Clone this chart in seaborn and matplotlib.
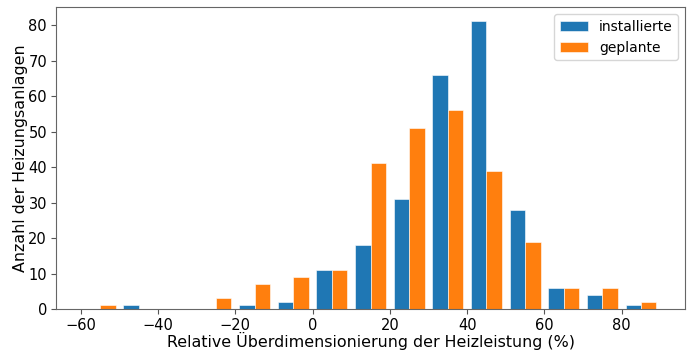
import numpy as np
import pandas as pd
import matplotlib
matplotlib.use("Agg")
import matplotlib.pyplot as plt
import seaborn as sns

# Bin edges (width 10 %) and counts per bin for both groups
bin_edges = list(range(-60, 100, 10))
installierte = [0, 1, 0, 0, 1, 2, 11, 18, 31, 66, 81, 28, 6, 4, 1]
geplante = [1, 0, 0, 3, 7, 9, 11, 41, 51, 56, 39, 19, 6, 6, 2]

series_names = ["installierte", "geplante"]
series_counts = [installierte, geplante]
series_colors = ["#1f77b4", "#ff7f0e"]

sns.set_style("ticks")
plt.rcParams["font.family"] = ["DejaVu Sans"]
plt.rcParams["text.color"] = "black"
plt.rcParams["axes.labelcolor"] = "black"
plt.rcParams["xtick.labelcolor"] = "black"
plt.rcParams["ytick.labelcolor"] = "black"

fig = plt.figure(figsize=(6.92, 3.54), dpi=100)
ax = fig.add_axes([0.081, 0.127, 0.909, 0.853])

edges = np.array(bin_edges, dtype=float)
centers = (edges[:-1] + edges[1:]) / 2
width = edges[1] - edges[0]

# Side-by-side bars: each group gets 40 % of a bin, the pair fills the middle 80 %
n = len(series_names)
for i, (name, counts, color) in enumerate(zip(series_names, series_counts, series_colors)):
    offset = (i - (n - 1) / 2) * width * 0.4
    df = pd.DataFrame({"x": centers, "n": counts})
    sns.histplot(data=df, x="x", weights="n", bins=(edges + offset).tolist(), shrink=0.4,
                 color=color, alpha=1.0, edgecolor="white", linewidth=0.4,
                 label=name, ax=ax)

ax.set_xlabel("Relative Überdimensionierung der Heizleistung (%)", fontsize=11.4,
              labelpad=-1)
ax.set_ylabel("Anzahl der Heizungsanlagen", fontsize=11.4, labelpad=0.5)
ax.tick_params(labelsize=10.5, length=3.5, width=0.8, color="#555555", pad=3,
               labelcolor="black")
ax.set_xticks([-60, -40, -20, 0, 20, 40, 60, 80])
ax.set_yticks(range(0, 90, 10))
ax.margins(x=0.05, y=0.05)
for s in ax.spines.values():
    s.set_visible(True)
    s.set_color("#666666")
    s.set_linewidth(0.8)
ax.legend(loc="upper right", fontsize=10)

fig.savefig("out.png", dpi=100)
